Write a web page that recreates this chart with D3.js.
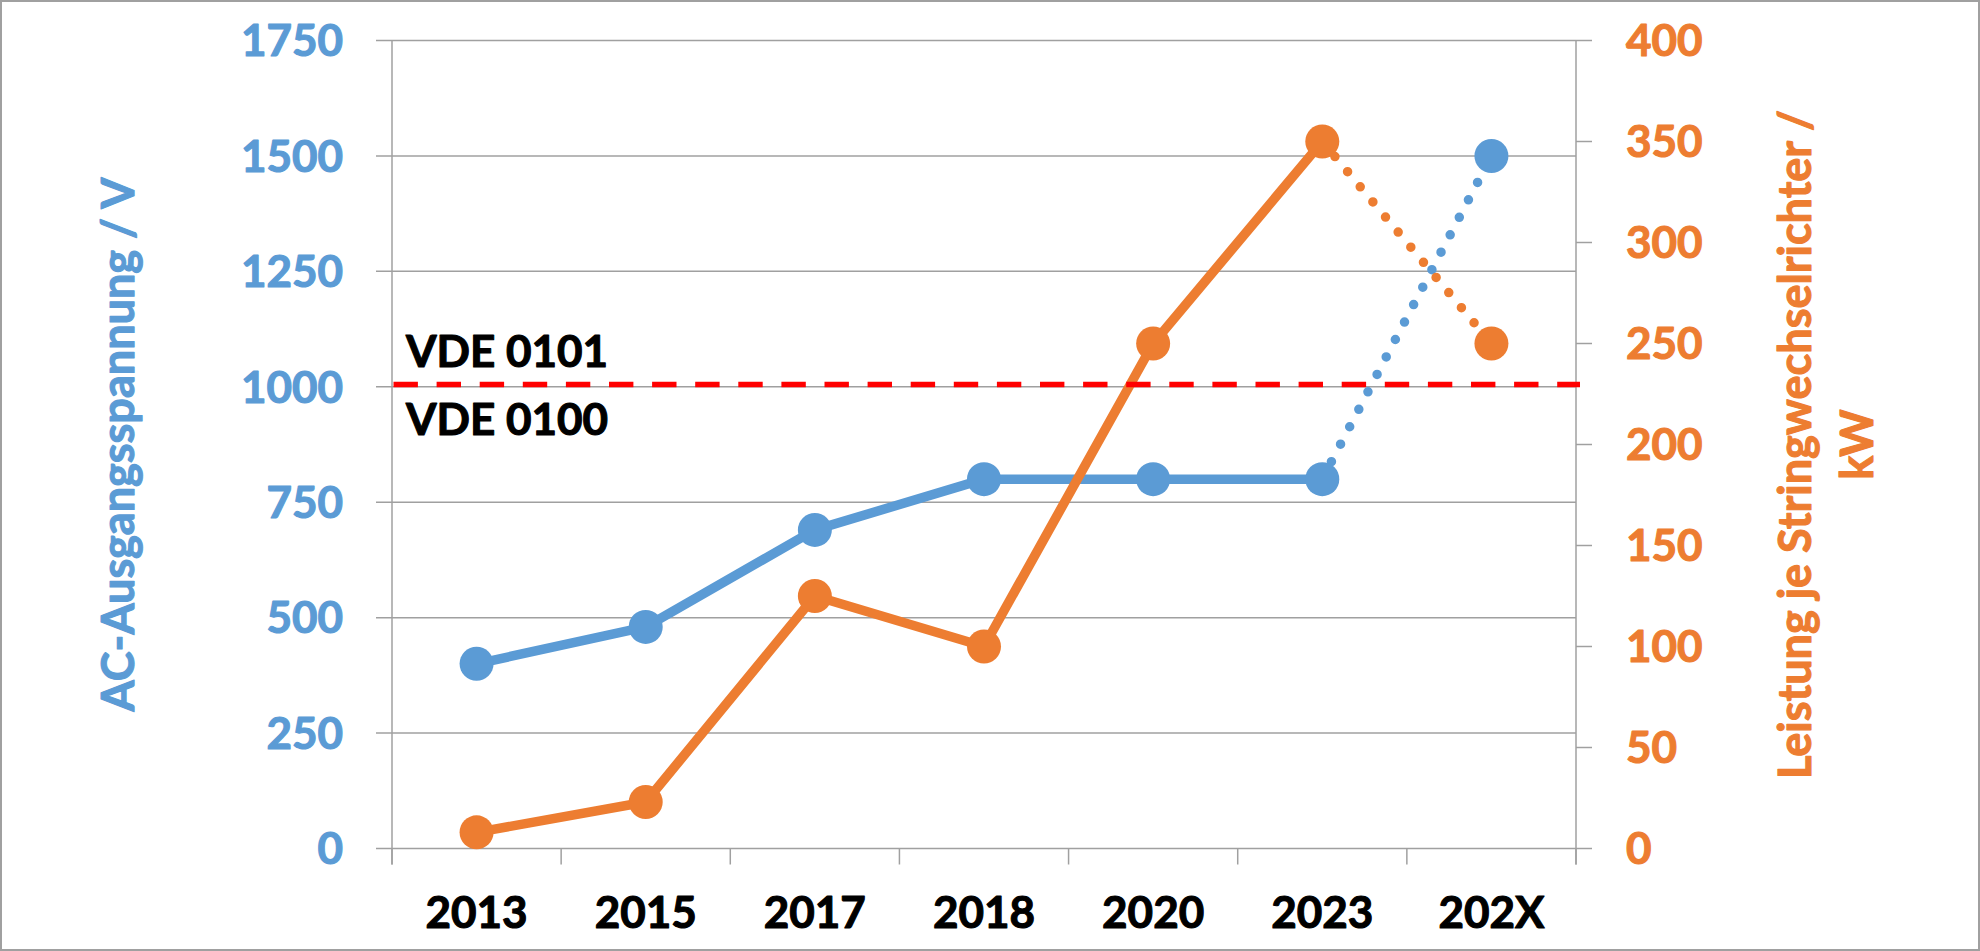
<!DOCTYPE html>
<html>
<head>
<meta charset="utf-8">
<script src="https://cdn.jsdelivr.net/npm/d3@7"></script>
<style>
  html, body { margin: 0; padding: 0; background: #fff; }
  svg { display: block; font-family: Lato, "Open Sans", sans-serif; font-weight: 700; }
  svg text { stroke-width: 1.1px; stroke-linejoin: round; }
</style>
</head>
<body>
<div id="chart"></div>
<script>
// Dual-axis line chart: AC output voltage (left) vs. power per string inverter (right).
// Last segment of each series (2023 → 202X) is a forecast, drawn dotted.

const YEARS     = ["2013", "2015", "2017", "2018", "2020", "2023", "202X"];
const VOLTAGE   = [400, 480, 690, 800, 800, 800, 1500];   // V
const POWER     = [8, 23, 125, 100, 250, 350, 250];       // kW
const FORECAST  = [false, false, false, false, false, false, true];

const VOLT_TICKS  = [0, 250, 500, 750, 1000, 1250, 1500, 1750];
const POWER_TICKS = [0, 50, 100, 150, 200, 250, 300, 350, 400];

const VDE_LIMIT = 1005;
const VDE_LABELS = { above: "VDE 0101", below: "VDE 0100" };

const LEFT_TITLE  = "AC-Ausgangsspannung / V";
const RIGHT_TITLE = ["Leistung je Stringwechselrichter /", "kW"];

const BLUE   = "#5b9bd5";
const ORANGE = "#ed7d31";
const GRID   = "#a0a0a0";

// ── Layout ───────────────────────────────────────────────────────────────────

const W = 1980, H = 951;
const plot = { left: 392, right: 1576, top: 40.5, bottom: 848.5 };
const TICK = 16;

const x = d3.scaleBand().domain(YEARS).range([plot.left, plot.right]).padding(0);
const yV = d3.scaleLinear().domain([0, 1750]).range([plot.bottom, plot.top]);
const yP = d3.scaleLinear().domain([0, 400]).range([plot.bottom, plot.top]);
const cx = d => x(d) + x.bandwidth() / 2;

const svg = d3.select("#chart").append("svg").attr("width", W).attr("height", H);

svg.append("rect")
  .attr("x", 1).attr("y", 1).attr("width", W - 2).attr("height", H - 2)
  .attr("fill", "#fff").attr("stroke", GRID).attr("stroke-width", 2);

// ── Grid + axes ──────────────────────────────────────────────────────────────

svg.append("g").selectAll("line").data(VOLT_TICKS).join("line")
  .attr("x1", plot.left - TICK).attr("x2", plot.right)
  .attr("y1", d => yV(d)).attr("y2", d => yV(d))
  .attr("stroke", GRID).attr("stroke-width", 1.5);

svg.append("g").selectAll("text").data(VOLT_TICKS).join("text")
  .attr("x", 343).attr("y", d => yV(d)).attr("dy", "0.36em")
  .attr("text-anchor", "end").attr("font-size", 44)
  .attr("fill", BLUE).attr("stroke", BLUE)
  .text(d => d);

// left + right vertical axis lines
[plot.left, plot.right].forEach(px => {
  svg.append("line")
    .attr("x1", px).attr("x2", px).attr("y1", plot.top).attr("y2", plot.bottom + TICK)
    .attr("stroke", GRID).attr("stroke-width", 1.5);
});

// right axis ticks + labels
svg.append("g").selectAll("line").data(POWER_TICKS).join("line")
  .attr("x1", plot.right).attr("x2", plot.right + TICK)
  .attr("y1", d => yP(d)).attr("y2", d => yP(d))
  .attr("stroke", GRID).attr("stroke-width", 1.5);

svg.append("g").selectAll("text").data(POWER_TICKS).join("text")
  .attr("x", 1626).attr("y", d => yP(d)).attr("dy", "0.36em")
  .attr("text-anchor", "start").attr("font-size", 44)
  .attr("fill", ORANGE).attr("stroke", ORANGE)
  .text(d => d);

// category boundaries on the x axis
const bounds = YEARS.map(d => x(d)).concat(x(YEARS[YEARS.length - 1]) + x.bandwidth());
svg.append("g").selectAll("line").data(bounds).join("line")
  .attr("x1", d => d).attr("x2", d => d)
  .attr("y1", plot.bottom).attr("y2", plot.bottom + TICK)
  .attr("stroke", GRID).attr("stroke-width", 1.5);

svg.append("g").selectAll("text").data(YEARS).join("text")
  .attr("x", d => cx(d)).attr("y", 928)
  .attr("text-anchor", "middle").attr("font-size", 44)
  .attr("fill", "#000").attr("stroke", "#000")
  .text(d => d);

// axis titles
svg.append("text")
  .attr("transform", `translate(134,${(plot.top + plot.bottom) / 2}) rotate(-90)`)
  .attr("text-anchor", "middle").attr("font-size", 45)
  .attr("fill", BLUE).attr("stroke", BLUE)
  .text(LEFT_TITLE);

RIGHT_TITLE.forEach((t, i) => {
  svg.append("text")
    .attr("transform", `translate(${1811 + i * 62},${(plot.top + plot.bottom) / 2}) rotate(-90)`)
    .attr("text-anchor", "middle").attr("font-size", 45)
    .attr("fill", ORANGE).attr("stroke", ORANGE)
    .text(t);
});

// ── Series ───────────────────────────────────────────────────────────────────

function drawSeries(values, yScale, color) {
  const pts = YEARS.map((d, i) => ({ x: cx(d), y: yScale(values[i]), forecast: FORECAST[i] }));
  const line = d3.line().x(d => d.x).y(d => d.y);
  const lastSolid = pts.findIndex(p => p.forecast) - 1;

  svg.append("path")
    .attr("d", line(pts.slice(0, lastSolid + 1)))
    .attr("fill", "none").attr("stroke", color).attr("stroke-width", 9.5)
    .attr("stroke-linejoin", "round");

  svg.append("path")
    .attr("d", line(pts.slice(lastSolid)))
    .attr("fill", "none").attr("stroke", color).attr("stroke-width", 9.5)
    .attr("stroke-linecap", "round").attr("stroke-dasharray", "0 19.7");

  svg.append("g").selectAll("circle").data(pts).join("circle")
    .attr("cx", d => d.x).attr("cy", d => d.y).attr("r", 17)
    .attr("fill", color);
}

drawSeries(VOLTAGE, yV, BLUE);
drawSeries(POWER, yP, ORANGE);

// ── VDE threshold ────────────────────────────────────────────────────────────

svg.append("line")
  .attr("x1", plot.left + 1.5).attr("x2", plot.right + 4)
  .attr("y1", yV(VDE_LIMIT)).attr("y2", yV(VDE_LIMIT))
  .attr("stroke", "#ff0000").attr("stroke-width", 5.5)
  .attr("stroke-dasharray", "24.4 18.7");

svg.append("text")
  .attr("x", 406).attr("y", 367).attr("font-size", 44)
  .attr("fill", "#000").attr("stroke", "#000")
  .text(VDE_LABELS.above);
svg.append("text")
  .attr("x", 406).attr("y", 435).attr("font-size", 44)
  .attr("fill", "#000").attr("stroke", "#000")
  .text(VDE_LABELS.below);
</script>
</body>
</html>
